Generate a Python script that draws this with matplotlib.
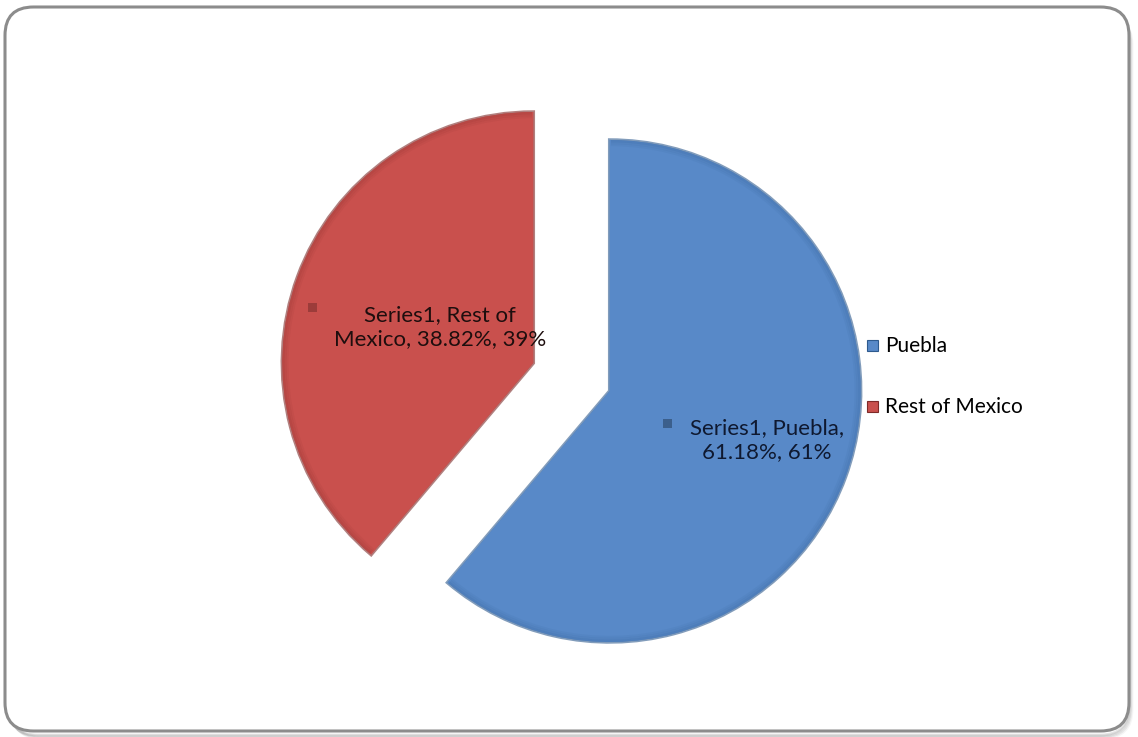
import numpy as np
import matplotlib.pyplot as plt
from matplotlib.patches import FancyBboxPatch, Rectangle, Wedge
import matplotlib.patheffects as pe

# Data
labels = ['Puebla', 'Rest of Mexico']
shares = [61.18, 38.82]
rounded = [61, 39]
colors = ['#5889C8', '#C9504D']
edge_colors = ['#2E5A8E', '#7E2A28']

W, H = 1138, 737
fig = plt.figure(figsize=(W / 100, H / 100), dpi=100)
fig.patch.set_facecolor('white')

# Rounded chart frame with a soft shadow
for i, a in enumerate([0.10, 0.08, 0.06, 0.04]):
    fig.patches.append(FancyBboxPatch(
        ((9 + i) / W, (2 - i) / H), (1124 - 4) / W, (726 - 4) / H,
        boxstyle='round,pad=0,rounding_size=0.025', transform=fig.transFigure,
        facecolor='none', edgecolor='black', alpha=a, linewidth=2.0,
        mutation_aspect=W / H, zorder=0))
fig.patches.append(FancyBboxPatch(
    (5 / W, 6 / H), 1124 / W, 724 / H,
    boxstyle='round,pad=0,rounding_size=0.025', transform=fig.transFigure,
    facecolor='white', edgecolor='#8C8C8C', linewidth=2.2,
    mutation_aspect=W / H, zorder=0))

ax = fig.add_axes([0, 0, 1, 1])
ax.set_zorder(2)
cx, cy = 571.5, H - 377
radius = 251
wedges, _ = ax.pie(shares, colors=colors, startangle=90, counterclock=False,
                   explode=[0.162 * radius] * 2, center=(cx, cy), radius=radius,
                   wedgeprops=dict(linewidth=0))
for w, ec in zip(wedges, edge_colors):
    w.set_path_effects([
        pe.Stroke(linewidth=2.5, foreground=ec, alpha=0.6),
        pe.Normal(),
    ])
    # soft darker rim along the arc (bevel look)
    for k, a in enumerate([0.22, 0.14, 0.08]):
        ax.add_patch(Wedge(w.center, w.r - 2 * k, w.theta1 + 0.3, w.theta2 - 0.3,
                           width=2.2, facecolor=ec, edgecolor='none', alpha=a))
ax.set_xlim(0, W)
ax.set_ylim(0, H)
ax.set_aspect('equal')
ax.axis('off')

font = 'Lato'

# Data labels
ax.add_patch(Rectangle((308, H - 312), 9, 9, facecolor='#9C3C3A', edgecolor='none'))
ax.text(440, H - 327,
        f'Series1, Rest of\nMexico, {shares[1]:.2f}%, {rounded[1]}%',
        ha='center', va='center', fontsize=16, family=font, color='#1E0E0E',
        linespacing=1.3)
ax.add_patch(Rectangle((663, H - 428), 9, 9, facecolor='#3B5F8C', edgecolor='none'))
ax.text(767, H - 440,
        f'Series1, {labels[0]},\n{shares[0]:.2f}%, {rounded[0]}%',
        ha='center', va='center', fontsize=16, family=font, color='#0F1930',
        linespacing=1.3)

# Legend
for i, (lab, col) in enumerate(zip(labels, colors)):
    y = H - (346 + i * 61)
    ax.add_patch(Rectangle((867, y - 5), 11, 11, facecolor=col,
                           edgecolor=edge_colors[i], linewidth=0.8))
    ax.text(885, y, lab, ha='left', va='center', fontsize=15,
            family=font, color='black')

fig.savefig('out.png', dpi=100)
